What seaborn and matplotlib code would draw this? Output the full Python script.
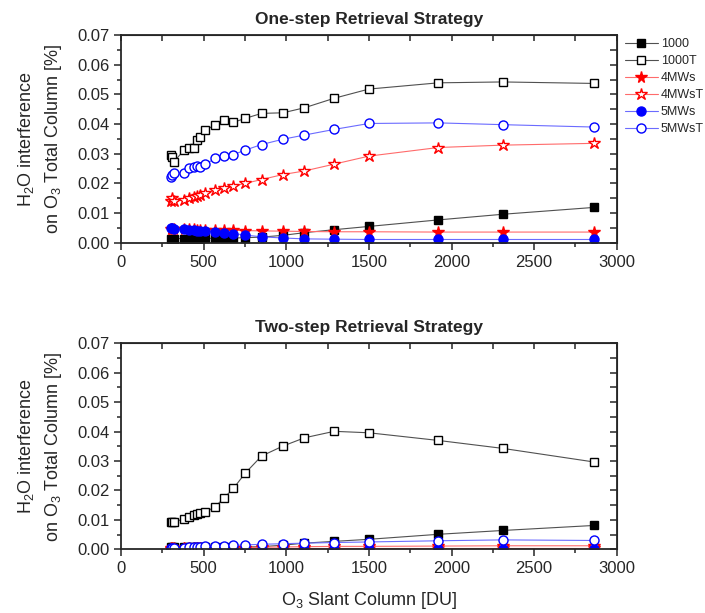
import matplotlib

matplotlib.use("Agg")
import matplotlib.pyplot as plt
import seaborn as sns
from matplotlib.ticker import MultipleLocator

# O3 slant column [DU], shared by every series
SLANT_COLUMN = [300, 310, 320, 380, 410, 440, 460, 480, 510, 570, 620,
                680, 750, 850, 980, 1110, 1290, 1500, 1920, 2310, 2860]

# One-step retrieval strategy
ONE_1000 = [0.0014, 0.0014, 0.0014, 0.0014, 0.0014, 0.0014, 0.0014, 0.0014, 0.0015, 0.0015, 0.0015,
            0.0016, 0.0017, 0.0019, 0.0025, 0.0034, 0.0044, 0.0055, 0.0077, 0.0096, 0.0119]
ONE_1000T = [0.0296, 0.0290, 0.0273, 0.0312, 0.0318, 0.0320, 0.0346, 0.0357, 0.0380, 0.0397, 0.0413,
             0.0406, 0.0419, 0.0436, 0.0438, 0.0455, 0.0487, 0.0518, 0.0539, 0.0542, 0.0537]
ONE_4MWS = [0.0048, 0.0047, 0.0047, 0.0046, 0.0045, 0.0045, 0.0044, 0.0044, 0.0043, 0.0043, 0.0042,
            0.0042, 0.0041, 0.0040, 0.0039, 0.0038, 0.0037, 0.0037, 0.0036, 0.0036, 0.0036]
ONE_4MWST = [0.0142, 0.0150, 0.0140, 0.0144, 0.0150, 0.0155, 0.0157, 0.0160, 0.0166, 0.0178, 0.0183,
             0.0191, 0.0200, 0.0213, 0.0230, 0.0242, 0.0265, 0.0292, 0.0321, 0.0329, 0.0335]
ONE_5MWS = [0.0050, 0.0049, 0.0048, 0.0045, 0.0043, 0.0042, 0.0041, 0.0040, 0.0039, 0.0037, 0.0034,
            0.0031, 0.0026, 0.0020, 0.0016, 0.0013, 0.0012, 0.0011, 0.0011, 0.0011, 0.0011]
ONE_5MWST = [0.0222, 0.0228, 0.0236, 0.0234, 0.0251, 0.0256, 0.0260, 0.0256, 0.0265, 0.0284, 0.0292,
             0.0297, 0.0312, 0.0331, 0.0349, 0.0363, 0.0382, 0.0402, 0.0404, 0.0398, 0.0390]

# Two-step retrieval strategy
TWO_1000 = [0.0008, 0.0008, 0.0008, 0.0008, 0.0008, 0.0008, 0.0008, 0.0008, 0.0008, 0.0008, 0.0008,
            0.0008, 0.0008, 0.0009, 0.0014, 0.0021, 0.0027, 0.0034, 0.0051, 0.0064, 0.0081]
TWO_1000T = [0.0092, 0.0093, 0.0092, 0.0104, 0.0111, 0.0117, 0.0120, 0.0122, 0.0126, 0.0145, 0.0173,
             0.0207, 0.0258, 0.0317, 0.0351, 0.0379, 0.0401, 0.0396, 0.0370, 0.0343, 0.0297]
TWO_4MWS = [0.0003, 0.0003, 0.0003, 0.0003, 0.0003, 0.0003, 0.0003, 0.0003, 0.0003, 0.0003, 0.0003,
            0.0003, 0.0003, 0.0003, 0.0003, 0.0003, 0.0003, 0.0003, 0.0003, 0.0003, 0.0003]
TWO_4MWST = [0.0002, 0.0002, 0.0002, 0.0003, 0.0003, 0.0003, 0.0003, 0.0004, 0.0004, 0.0004, 0.0005,
             0.0005, 0.0006, 0.0007, 0.0008, 0.0009, 0.0010, 0.0010, 0.0011, 0.0012, 0.0012]
TWO_5MWS = [0.0002, 0.0002, 0.0002, 0.0002, 0.0002, 0.0002, 0.0002, 0.0002, 0.0002, 0.0002, 0.0002,
            0.0002, 0.0002, 0.0002, 0.0002, 0.0002, 0.0002, 0.0002, 0.0002, 0.0002, 0.0002]
TWO_5MWST = [0.0005, 0.0005, 0.0005, 0.0006, 0.0007, 0.0008, 0.0008, 0.0009, 0.0010, 0.0011, 0.0012,
             0.0013, 0.0015, 0.0017, 0.0019, 0.0021, 0.0023, 0.0025, 0.0029, 0.0032, 0.0030]

SERIES_NAMES = ["1000", "1000T", "4MWs", "4MWsT", "5MWs", "5MWsT"]

# name -> (marker colour, line colour, marker, filled, marker size)
STYLES = {
    "1000": ("black", "#505050", "s", True, 5.5),
    "1000T": ("black", "#505050", "s", False, 6),
    "4MWs": ("red", "#ff6b6b", "*", True, 8.5),
    "4MWsT": ("red", "#ff6b6b", "*", False, 9),
    "5MWs": ("blue", "#6b6bff", "o", True, 6.5),
    "5MWsT": ("blue", "#6b6bff", "o", False, 6.5),
}

sns.set_style("ticks")
plt.rcParams["font.family"] = ["Liberation Sans", "DejaVu Sans"]
plt.rcParams["mathtext.fontset"] = "custom"
plt.rcParams["mathtext.rm"] = "Liberation Sans"
plt.rcParams["mathtext.it"] = "Liberation Sans:italic"


def draw_panel(ax, values, title, xlabel=None):
    for name, vals in zip(SERIES_NAMES, values):
        mcolor, lcolor, marker, filled, msize = STYLES[name]
        sns.lineplot(
            x=SLANT_COLUMN, y=vals, ax=ax, color=lcolor, linewidth=0.8,
            marker=marker, markersize=msize,
            markerfacecolor=mcolor if filled else "white",
            markeredgecolor=mcolor, markeredgewidth=1.0,
            label=name, legend=False, errorbar=None, sort=False,
        )

    ax.set_xlim(0, 3000)
    ax.set_ylim(0, 0.07)
    ax.xaxis.set_major_locator(MultipleLocator(500))
    ax.xaxis.set_minor_locator(MultipleLocator(250))
    ax.yaxis.set_major_locator(MultipleLocator(0.01))
    ax.yaxis.set_minor_locator(MultipleLocator(0.005))
    ax.yaxis.set_major_formatter(lambda v, _: f"{v:.2f}")
    ax.tick_params(which="both", direction="out", labelsize=12, width=1.1, top=False, right=False)
    ax.tick_params(which="major", length=5)
    ax.tick_params(which="minor", length=3)
    for side in ["top", "right", "bottom", "left"]:
        ax.spines[side].set_visible(True)
        ax.spines[side].set_linewidth(1.3)

    # mirrored axes with inward ticks, no labels
    top = ax.secondary_xaxis("top")
    top.xaxis.set_major_locator(MultipleLocator(500))
    top.xaxis.set_minor_locator(MultipleLocator(250))
    top.tick_params(which="both", direction="in", labeltop=False, width=1.1, length=4)
    right = ax.secondary_yaxis("right")
    right.yaxis.set_major_locator(MultipleLocator(0.01))
    right.yaxis.set_minor_locator(MultipleLocator(0.005))
    right.tick_params(which="both", direction="in", labelright=False, width=1.1, length=5)

    ax.set_title(title, fontsize=12.5, fontweight="bold", pad=8)
    ax.set_ylabel("H$_2$O interference\non O$_3$ Total Column [%]", fontsize=13, linespacing=1.5)
    ax.yaxis.set_label_coords(-0.115, 0.5)
    ax.set_xlabel(xlabel if xlabel else "", fontsize=13, labelpad=10)


fig = plt.figure(figsize=(7.05, 6.13), dpi=100)
ax_top = fig.add_axes([0.1718, 0.604, 0.703, 0.3388])
ax_bottom = fig.add_axes([0.1718, 0.1039, 0.703, 0.336])

draw_panel(ax_top, [ONE_1000, ONE_1000T, ONE_4MWS, ONE_4MWST, ONE_5MWS, ONE_5MWST],
           "One-step Retrieval Strategy")
draw_panel(ax_bottom, [TWO_1000, TWO_1000T, TWO_4MWS, TWO_4MWST, TWO_5MWS, TWO_5MWST],
           "Two-step Retrieval Strategy", "O$_3$ Slant Column [DU]")

handles, labels = ax_top.get_legend_handles_labels()
ax_top.legend(
    handles, labels, loc="upper left", bbox_to_anchor=(625 / 705, 1 - 38 / 613),
    bbox_transform=fig.transFigure, frameon=False, fontsize=9,
    handlelength=2.6, handletextpad=0.25, labelspacing=0.4, borderpad=0, borderaxespad=0,
)

fig.savefig("out.png", dpi=100)
